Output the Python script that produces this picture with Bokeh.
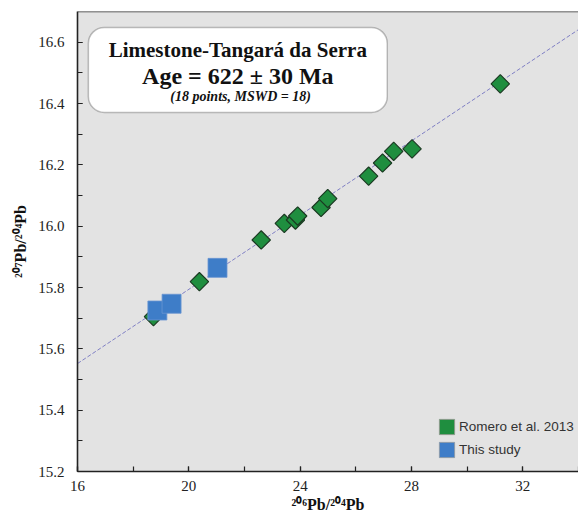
from bokeh.plotting import figure
from bokeh.models import (BoxAnnotation, Label, Legend, LegendItem, Span,
                          SingleIntervalTicker, ColumnDataSource,
                          CustomJSTickFormatter)
from bokeh.embed import file_html
from bokeh.resources import INLINE
import numpy as np

# --- data ---
romero_x = [18.73, 20.38, 22.6, 23.43, 23.83, 23.91, 24.75, 24.99,
            26.46, 26.96, 27.36, 28.02, 31.19]
romero_y = [15.705, 15.819, 15.955, 16.009, 16.020, 16.033, 16.061, 16.090,
            16.163, 16.206, 16.244, 16.252, 16.464]
study_x = [18.87, 19.38, 21.03]
study_y = [15.725, 15.747, 15.864]
fit_x = [16.0, 34.0]
fit_y = [15.552, 16.641]

title_lines = ["Limestone-Tangará da Serra", "Age = 622 \u00b1 30 Ma",
               "(18 points, MSWD = 18)"]
legend_labels = ["Romero et al. 2013", "This study"]
x_title = "\u00b2\u2070\u2076Pb/\u00b2\u2070\u2074Pb"
y_title = "\u00b2\u2070\u2077Pb/\u00b2\u2070\u2074Pb"

GREEN = "#1f8e3f"
BLUE = "#3e7dc8"
SERIF = "Liberation Serif"

p = figure(width=578, height=515, x_range=(16, 34), y_range=(15.2, 16.7),
           output_backend="svg", toolbar_location=None,
           min_border_left=77, min_border_right=0, min_border_top=11,
           min_border_bottom=0)
p.background_fill_color = "#e3e3e3"
p.border_fill_color = "white"
p.outline_line_color = None
p.grid.visible = False

for axes in (p.xaxis, p.yaxis):
    axes.axis_line_color = "#222222"
    axes.axis_line_width = 1.6
    axes.major_tick_in = 5
    axes.major_tick_out = 0
    axes.minor_tick_in = 5
    axes.minor_tick_out = 0
    axes.major_tick_line_color = "#222222"
    axes.minor_tick_line_color = "#222222"
    axes.major_tick_line_width = 1.2
    axes.minor_tick_line_width = 1.2
    axes.major_label_text_font = SERIF
    axes.major_label_text_font_size = "15px"
    axes.major_label_text_color = "#222222"
    axes.axis_label_text_font = SERIF
    axes.axis_label_text_font_style = "bold"
    axes.axis_label_text_font_size = "16px"
    axes.axis_label_text_color = "#111111"

p.xaxis.ticker = SingleIntervalTicker(interval=4, num_minor_ticks=2)
p.yaxis.ticker = SingleIntervalTicker(interval=0.2, num_minor_ticks=2)
p.xaxis.major_label_standoff = 9
p.yaxis.major_label_standoff = 13
p.xaxis.axis_label = x_title
p.xaxis.axis_label_standoff = 2
p.yaxis.axis_label = y_title
p.yaxis.axis_label_standoff = 6
p.yaxis.formatter = CustomJSTickFormatter(code="return tick.toFixed(1)")

# top frame line
p.add_layout(Span(location=16.7, dimension="width", line_color="#333333",
                  line_width=1.6))

# reference line
p.line(fit_x, fit_y, line_color="#7f7fc4", line_width=1, line_dash="4 2")

# data
p.scatter(romero_x, romero_y, marker="square", angle=np.pi / 4, size=13,
          fill_color=GREEN, line_color="#1b3a22", line_width=1.2)
p.scatter(study_x, study_y, marker="square", size=19,
          fill_color=BLUE, line_color="#6a96d2", line_width=0.8)

# title box
p.add_layout(BoxAnnotation(left=16.39, right=27.13, bottom=16.371, top=16.648,
                           fill_color="white", fill_alpha=1.0,
                           line_color="#333333", line_width=1.5,
                           border_radius=16, level="annotation"))
xc = (16.39 + 27.13) / 2
p.add_layout(Label(x=xc, y=16.574, text=title_lines[0], text_align="center",
                   text_baseline="alphabetic", text_font=SERIF,
                   text_font_style="bold", text_font_size="21px",
                   text_color="#111111"))
p.add_layout(Label(x=xc, y=16.490, text=title_lines[1], text_align="center",
                   text_baseline="alphabetic", text_font=SERIF,
                   text_font_style="bold", text_font_size="24px",
                   text_color="#111111"))
p.add_layout(Label(x=xc + 0.1, y=16.422, text=title_lines[2], text_align="center",
                   text_baseline="alphabetic", text_font=SERIF,
                   text_font_style="bold italic", text_font_size="14px",
                   text_color="#111111"))

# legend via dummy area glyphs (drawn outside the visible range)
src = ColumnDataSource(dict(l=[0], r=[0.1], t=[0.1], b=[0]))
g1 = p.quad(left="l", right="r", top="t", bottom="b", source=src,
            fill_color=GREEN, line_color="#8a9a8a", line_width=1)
g2 = p.quad(left="l", right="r", top="t", bottom="b", source=src,
            fill_color=BLUE, line_color="#8a9aaa", line_width=1)
legend = Legend(items=[LegendItem(label=legend_labels[0], renderers=[g1]),
                       LegendItem(label=legend_labels[1], renderers=[g2])],
                location=(360, 12), background_fill_alpha=0,
                border_line_color=None, padding=0, margin=0, spacing=4,
                glyph_width=19, glyph_height=19, label_height=19,
                label_standoff=3, label_text_font="Liberation Sans",
                label_text_font_size="13.5px", label_text_color="#333333")
p.add_layout(legend)

open("out.html", "w").write(file_html(p, INLINE))
